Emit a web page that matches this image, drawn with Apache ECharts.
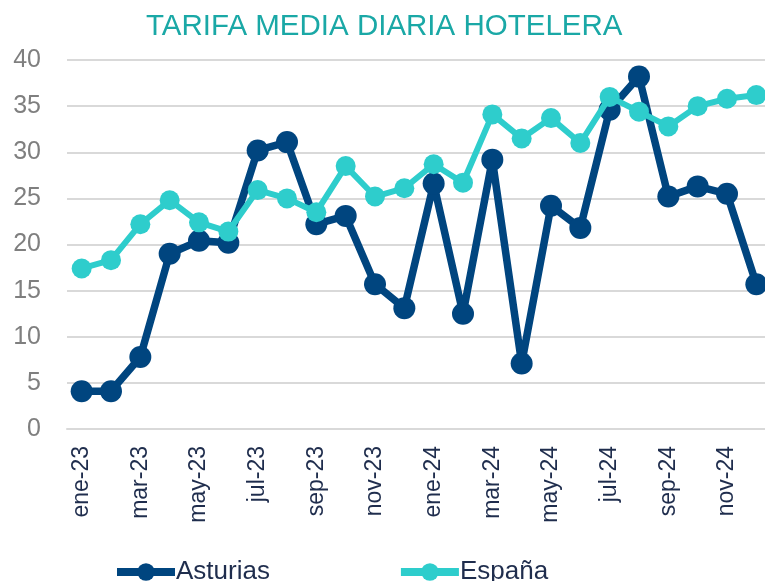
<!DOCTYPE html>
<html>
<head>
<meta charset="utf-8">
<script src="https://cdn.jsdelivr.net/npm/echarts@6/dist/echarts.min.js"></script>
<style>
  html, body { margin: 0; padding: 0; background: #fff; overflow: hidden; }
  /* the plot runs a few px past the right edge, as in the original */
  #chart { width: 775px; height: 581px; }
</style>
</head>
<body>
<div id="chart"></div>
<script>
  // meses ene-23 .. dic-24
  const months = [
    'ene-23', 'feb-23', 'mar-23', 'abr-23', 'may-23', 'jun-23',
    'jul-23', 'ago-23', 'sep-23', 'oct-23', 'nov-23', 'dic-23',
    'ene-24', 'feb-24', 'mar-24', 'abr-24', 'may-24', 'jun-24',
    'jul-24', 'ago-24', 'sep-24', 'oct-24', 'nov-24', 'dic-24'
  ]
  const asturias = [
    4.1, 4.1, 7.8, 19.0, 20.4, 20.2, 30.2, 31.1, 22.2, 23.1, 15.7, 13.1,
    26.6, 12.5, 29.2, 7.1, 24.2, 21.8, 34.6, 38.2, 25.2, 26.3, 25.5, 15.7
  ]
  const espana = [
    17.4, 18.3, 22.2, 24.8, 22.4, 21.4, 25.9, 25.0, 23.5, 28.5, 25.2, 26.1,
    28.7, 26.7, 34.1, 31.5, 33.7, 31.0, 36.0, 34.4, 32.8, 35.0, 35.8, 36.2
  ]
  const yTicks = [0, 5, 10, 15, 20, 25, 30, 35, 40]

  const chart = echarts.init(document.getElementById('chart'))
  const font = '"Liberation Sans", Arial, sans-serif'

  chart.setOption({
    animation: false,
    title: {
      text: 'TARIFA MEDIA DIARIA HOTELERA',
      left: 141,
      top: 7,
      textStyle: { color: '#1aa8a6', fontSize: 29.5, fontWeight: 'normal', fontFamily: font }
    },
    legend: {
      top: 554,
      left: 108,
      itemGap: 127,
      itemWidth: 58,
      itemHeight: 22,
      lineStyle: { width: 8 },
      textStyle: { color: '#1f2d4d', fontSize: 26, fontFamily: font, padding: [0, 0, 0, -4] },
      data: ['Asturias', 'España']
    },
    grid: { left: 67, right: 4, top: 60, bottom: 152, containLabel: false },
    xAxis: {
      type: 'category',
      data: months,
      boundaryGap: true,
      axisLine: { lineStyle: { color: '#d9d9d9', width: 2 } },
      axisTick: { interval: 1, length: 8, lineStyle: { color: '#d9d9d9', width: 2 } },
      axisLabel: {
        interval: 1,
        rotate: 90,
        margin: 17,
        color: '#1f2d4d',
        fontSize: 23,
        fontFamily: font
      }
    },
    yAxis: {
      type: 'value',
      min: yTicks[0],
      max: yTicks[yTicks.length - 1],
      interval: 5,
      axisLine: { show: false },
      axisTick: { show: false },
      axisLabel: { color: '#7f7f7f', fontSize: 25, fontFamily: font, margin: 26 },
      splitLine: { lineStyle: { color: '#d9d9d9', width: 2 } }
    },
    series: [
      {
        name: 'Asturias',
        type: 'line',
        data: asturias,
        symbol: 'circle',
        symbolSize: 22,
        showAllSymbol: true,
        itemStyle: { color: '#00457f' },
        lineStyle: { color: '#00457f', width: 7.5 },
        z: 3
      },
      {
        name: 'España',
        type: 'line',
        data: espana,
        symbol: 'circle',
        symbolSize: 20,
        showAllSymbol: true,
        itemStyle: { color: '#2ecdcc' },
        lineStyle: { color: '#2ecdcc', width: 6 },
        z: 4
      }
    ]
  })
</script>
</body>
</html>
